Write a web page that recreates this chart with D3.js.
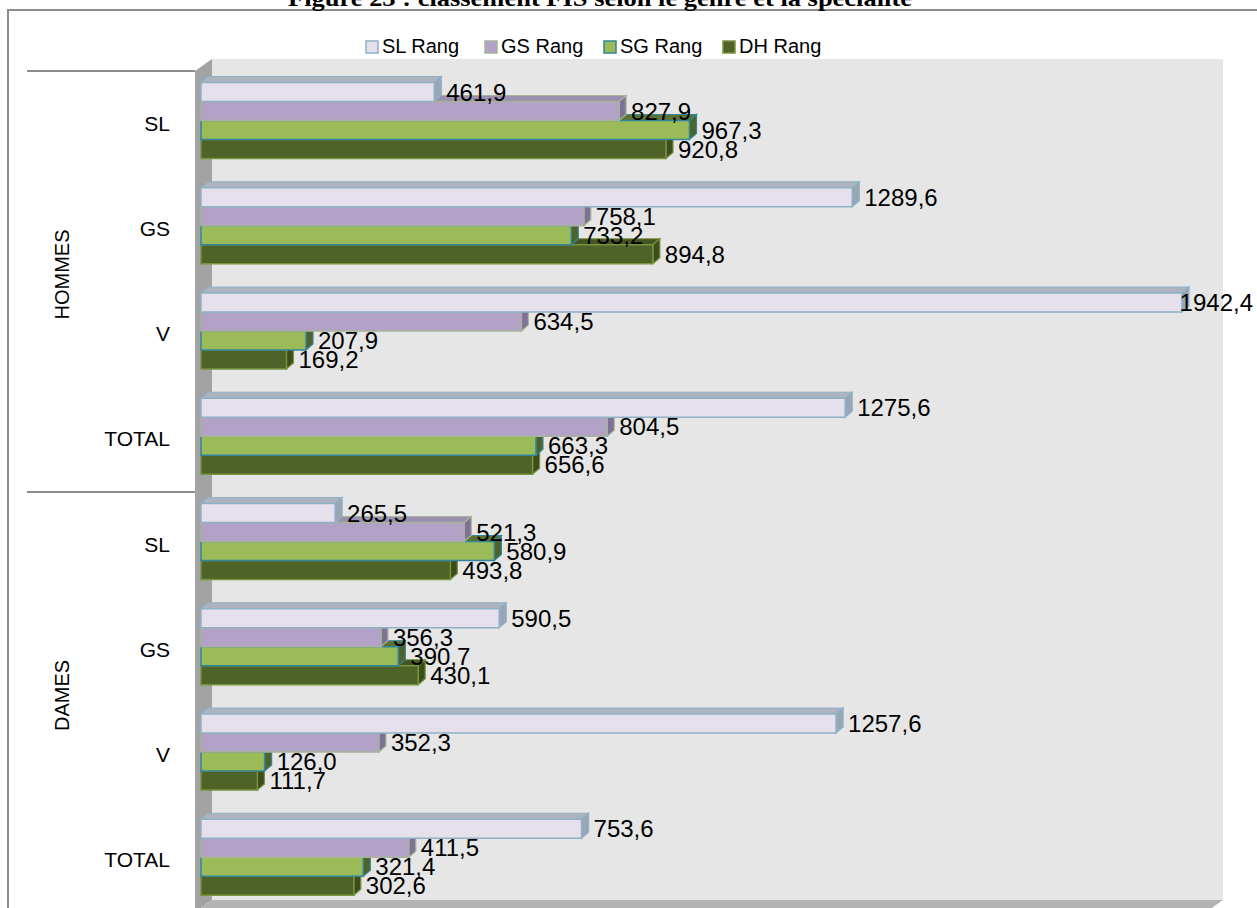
<!DOCTYPE html>
<html lang="fr">
<head>
<meta charset="utf-8">
<title>Classement FIS</title>
<script src="https://cdn.jsdelivr.net/npm/d3@7"></script>
<style>
  body { margin: 0; background: #fff; }
  svg { display: block; font-family: "Liberation Sans", Arial, sans-serif; }
</style>
</head>
<body>
<div id="chart"></div>
<script>
var groups = ["HOMMES", "DAMES"];
var categories = ["SL", "GS", "V", "TOTAL"];
var seriesNames = ["SL Rang", "GS Rang", "SG Rang", "DH Rang"];

// one value per row: HOMMES SL, GS, V, TOTAL, then DAMES SL, GS, V, TOTAL
var slRang = [461.9, 1289.6, 1942.4, 1275.6, 265.5, 590.5, 1257.6, 753.6];
var gsRang = [827.9, 758.1, 634.5, 804.5, 521.3, 356.3, 352.3, 411.5];
var sgRang = [967.3, 733.2, 207.9, 663.3, 580.9, 390.7, 126.0, 321.4];
var dhRang = [920.8, 894.8, 169.2, 656.6, 493.8, 430.1, 111.7, 302.6];
var seriesValues = [slRang, gsRang, sgRang, dhRang];

var W = 1257, H = 908;

// colours for each series: front, top, side, edge
var colors = [
  { front: "#e6e0ec", top: "#aeb3c0", side: "#98a6b5", stroke: "#8fb1c6" },
  { front: "#b3a2c7", top: "#9a8fae", side: "#7f7096", stroke: "#a7b39a" },
  { front: "#9bbb59", top: "#5d7230", side: "#4f6228", stroke: "#31859c" },
  { front: "#4f6228", top: "#44551f", side: "#3d4c1c", stroke: "#77933c" }
];

var svg = d3.select("#chart").append("svg")
  .attr("width", W)
  .attr("height", H);

// outer frame
svg.append("rect")
  .attr("x", 8).attr("y", 10)
  .attr("width", W + 20).attr("height", H + 20)
  .attr("fill", "none")
  .attr("stroke", "#8c8c8c")
  .attr("stroke-width", 2);

// title, mostly cut by the top edge
svg.append("text")
  .attr("x", 600).attr("y", 6)
  .attr("text-anchor", "middle")
  .attr("textLength", 624)
  .attr("lengthAdjust", "spacingAndGlyphs")
  .style("font-family", "'Liberation Serif', 'DejaVu Serif', serif")
  .style("font-weight", "bold")
  .style("font-size", "24px")
  .text("Figure 23 : classement FIS selon le genre et la spécialité");

var rows = d3.range(groups.length * categories.length);

var x = d3.scaleLinear().domain([0, 2000]).range([201, 1211]);
var y = d3.scaleBand().domain(rows).range([71, 913]);
var yInner = d3.scaleBand().domain(d3.range(seriesNames.length)).range([11.5, 87.5]);

var plotLeft = 195, plotRight = 1206, plotTop = 71, plotBottom = 912;
var depthX = 17, depthY = 12;
var barDx = 7, barDy = 6;

// back wall, side wall and floor
svg.append("rect")
  .attr("x", plotLeft + depthX).attr("y", plotTop - depthY)
  .attr("width", plotRight - plotLeft).attr("height", plotBottom - plotTop)
  .attr("fill", "#e6e6e6");

svg.append("polygon")
  .attr("points", [[plotLeft, plotTop], [plotLeft + depthX, plotTop - depthY],
    [plotLeft + depthX, plotBottom - depthY], [plotLeft, plotBottom]].join(" "))
  .attr("fill", "#a3a3a3");

svg.append("polygon")
  .attr("points", [[plotLeft, plotBottom], [plotLeft + depthX, plotBottom - depthY],
    [plotRight + depthX, plotBottom - depthY], [plotRight, plotBottom]].join(" "))
  .attr("fill", "#b3b3b3");

// group separators on the category axis
var groupEdges = d3.range(groups.length + 1).map(function (g) {
  return g * categories.length;
});
svg.selectAll(".sep")
  .data(groupEdges)
  .enter().append("line")
  .attr("x1", 27).attr("x2", plotLeft)
  .attr("y1", function (d) { return d < rows.length ? y(d) : y(rows.length - 1) + y.bandwidth(); })
  .attr("y2", function (d) { return d < rows.length ? y(d) : y(rows.length - 1) + y.bandwidth(); })
  .attr("stroke", "#8c8c8c")
  .attr("stroke-width", 2);

// category labels
svg.selectAll(".cat")
  .data(rows)
  .enter().append("text")
  .attr("x", 170)
  .attr("y", function (d) { return y(d) + y.bandwidth() / 2 + 7; })
  .attr("text-anchor", "end")
  .style("font-size", "21px")
  .text(function (d) { return categories[d % categories.length]; });

// group labels
svg.selectAll(".grp")
  .data(groups)
  .enter().append("text")
  .attr("transform", function (d, i) {
    var top = y(i * categories.length);
    var mid = top + y.bandwidth() * categories.length / 2 - 7;
    return "translate(69," + mid + ") rotate(-90)";
  })
  .attr("text-anchor", "middle")
  .style("font-size", "20px")
  .text(function (d) { return d; });

// 3D bars, drawn bottom bar first so upper bars cover the lower tops
var bars = [];
rows.forEach(function (r) {
  for (var s = seriesNames.length - 1; s >= 0; s--) {
    bars.push({ row: r, s: s, value: seriesValues[s][r] });
  }
});

var barG = svg.selectAll(".bar")
  .data(bars)
  .enter().append("g");

barG.each(function (d) {
  var g = d3.select(this);
  var x0 = x(0), x1 = x(d.value);
  var yt = y(d.row) + yInner(d.s);
  var h = yInner.bandwidth();
  var c = colors[d.s];
  g.append("polygon")
    .attr("points", [[x0, yt], [x0 + barDx, yt - barDy], [x1 + barDx, yt - barDy], [x1, yt]].join(" "))
    .attr("fill", c.top).attr("stroke", c.stroke).attr("stroke-width", 1.2);
  g.append("polygon")
    .attr("points", [[x1, yt], [x1 + barDx, yt - barDy], [x1 + barDx, yt + h - barDy], [x1, yt + h]].join(" "))
    .attr("fill", c.side).attr("stroke", c.stroke).attr("stroke-width", 1.2);
  g.append("rect")
    .attr("x", x0).attr("y", yt)
    .attr("width", x1 - x0).attr("height", h)
    .attr("fill", c.front).attr("stroke", c.stroke).attr("stroke-width", 1.5);
});

// value labels
var fmt = d3.format(".1f");
svg.selectAll(".val")
  .data(bars)
  .enter().append("text")
  .style("font-size", "24px")
  .attr("y", function (d) { return y(d.row) + yInner(d.s) + yInner.bandwidth() / 2 + 8.5; })
  .text(function (d) { return fmt(d.value).replace(".", ","); })
  .attr("x", function (d) {
    var w = this.getComputedTextLength();
    return Math.min(x(d.value) + 12, W - 4 - w);
  });

// legend
var legend = svg.selectAll(".leg")
  .data(seriesNames)
  .enter().append("g")
  .attr("transform", function (d, i) { return "translate(" + (366 + i * 119) + ",41)"; });

legend.append("rect")
  .attr("width", 12).attr("height", 12)
  .attr("fill", function (d, i) { return colors[i].front; })
  .attr("stroke", function (d, i) { return colors[i].stroke; })
  .attr("stroke-width", 1.5);

legend.append("text")
  .attr("x", 16).attr("y", 12)
  .style("font-size", "20px")
  .text(function (d) { return d; });
</script>
</body>
</html>
